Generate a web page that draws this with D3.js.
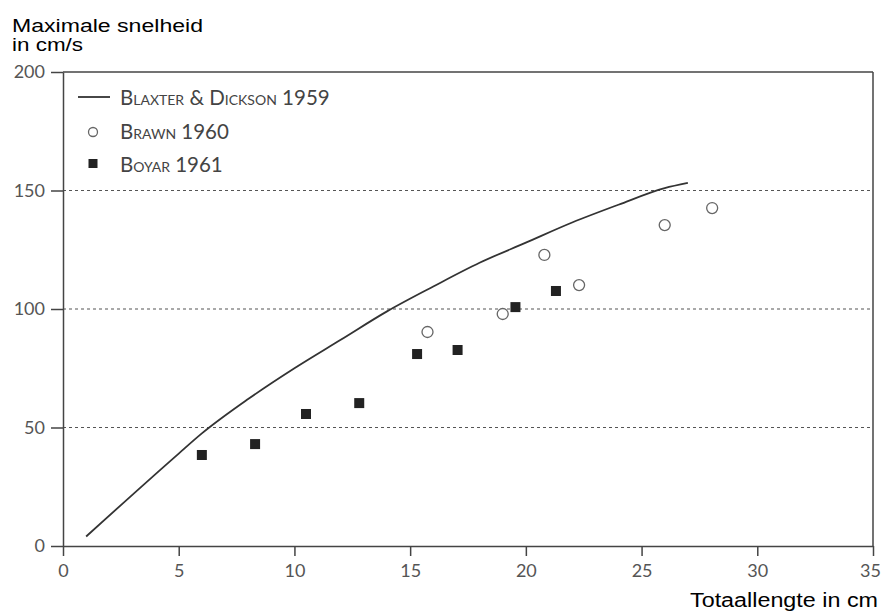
<!DOCTYPE html>
<html><head><meta charset="utf-8">
<script src="https://cdn.jsdelivr.net/npm/d3@7"></script>
<style>body{margin:0;background:#fff}</style>
</head><body>
<svg id="c" width="882" height="612"></svg>
<script>
const xTicks = [0,5,10,15,20,25,30,35];
const yTicks = [0,50,100,150,200];
const gridValues = [50,100,150];
const blaxterX = [1,5,6,8,10,12,14,16,18,20,22,24,26,27];
const blaxterY = [4,39,47.5,62,75,87,99,109.5,119.5,128,136.5,144,151,153.2];
const brawnX = [15.75,19.0,20.8,22.3,26.0,28.05];
const brawnY = [90.3,97.9,122.8,110.1,135.4,142.6];
const boyarX = [6.0,8.3,10.5,12.8,15.3,17.05,19.55,21.3];
const boyarY = [38.4,43.0,55.7,60.3,81.0,82.7,100.8,107.6];
const legendLabels = ["Blaxter & Dickson 1959","Brawn 1960","Boyar 1961"];

const svg = d3.select("#c");
const L=63, R=873, T=72, B=546;
const x = d3.scaleLinear().domain([0,35]).range([L,R]);
const y = d3.scaleLinear().domain([0,200]).range([B,T]);
const axisColor="#444", tickText="#555";
const tickFont="'Lato','Open Sans',sans-serif";
const sansFont="'Liberation Sans',Arial,sans-serif";

// grid
svg.selectAll(".grid").data(gridValues).join("line")
  .attr("x1",L).attr("x2",R).attr("y1",d=>y(d)).attr("y2",d=>y(d))
  .attr("stroke","#555").attr("stroke-width",1.2).attr("stroke-dasharray","3,3");

// frame top/right
svg.append("line").attr("x1",L).attr("x2",R).attr("y1",T).attr("y2",T).attr("stroke",axisColor).attr("stroke-width",1.5);
svg.append("line").attr("x1",R).attr("x2",R).attr("y1",T).attr("y2",B).attr("stroke",axisColor).attr("stroke-width",1.5);

// axes
const xAxis = d3.axisBottom(x).tickValues(xTicks).tickSize(10).tickPadding(8).tickSizeOuter(0);
const gx = svg.append("g").attr("transform",`translate(0,${B})`).call(xAxis);
const yAxis = d3.axisLeft(y).tickValues(yTicks).tickSize(12).tickPadding(6).tickSizeOuter(0);
const gy = svg.append("g").attr("transform",`translate(${L},0)`).call(yAxis);
[gx,gy].forEach(g=>{
  g.select(".domain").attr("stroke",axisColor).attr("stroke-width",1.5);
  g.selectAll(".tick line").attr("stroke",axisColor).attr("stroke-width",1.5);
  g.selectAll(".tick text").attr("fill",tickText).attr("font-family",tickFont).attr("font-size",18);
});
gx.selectAll(".tick text").filter(d=>d===35).attr("dx",-3);

// curve
const lineData = blaxterX.map((v,i)=>[v,blaxterY[i]]);
svg.append("path").datum(lineData)
  .attr("d", d3.line().x(d=>x(d[0])).y(d=>y(d[1])).curve(d3.curveMonotoneX))
  .attr("fill","none").attr("stroke","#333").attr("stroke-width",1.8);

// brawn circles
svg.selectAll(".brawn").data(brawnX.map((v,i)=>[v,brawnY[i]])).join("circle")
  .attr("cx",d=>x(d[0])).attr("cy",d=>y(d[1])).attr("r",5.5)
  .attr("fill","#fff").attr("stroke","#666").attr("stroke-width",1.3);

// boyar squares
const s=10;
svg.selectAll(".boyar").data(boyarX.map((v,i)=>[v,boyarY[i]])).join("rect")
  .attr("x",d=>x(d[0])-s/2).attr("y",d=>y(d[1])-s/2).attr("width",s).attr("height",s)
  .attr("fill","#222");

// legend
const legY=[105,139,172];
svg.append("line").attr("x1",78).attr("x2",110).attr("y1",97).attr("y2",97).attr("stroke","#333").attr("stroke-width",1.8);
svg.append("circle").attr("cx",93).attr("cy",132).attr("r",4.5).attr("fill","#fff").attr("stroke","#666").attr("stroke-width",1.3);
svg.append("rect").attr("x",88.5).attr("y",159).attr("width",9).attr("height",9).attr("fill","#222");
svg.selectAll(".leg").data(legendLabels).join("text")
  .attr("x",120).attr("y",(d,i)=>legY[i]).text(d=>d)
  .attr("font-family",tickFont).attr("font-size",20.5).attr("font-variant","small-caps")
  .attr("fill","#444");

// titles
svg.append("text").attr("x",12).attr("y",31.5).attr("font-family",sansFont).attr("font-size",17.5)
  .attr("fill","#000").attr("textLength",191).attr("lengthAdjust","spacingAndGlyphs").text("Maximale snelheid");
svg.append("text").attr("x",12).attr("y",51).attr("font-family",sansFont).attr("font-size",17.5)
  .attr("fill","#000").attr("textLength",71).attr("lengthAdjust","spacingAndGlyphs").text("in cm/s");
svg.append("text").attr("x",690).attr("y",607)
  .attr("font-family",sansFont).attr("font-size",20).attr("fill","#000")
  .attr("textLength",188).attr("lengthAdjust","spacingAndGlyphs")
  .text("Totaallengte in cm");
</script>
</body></html>
